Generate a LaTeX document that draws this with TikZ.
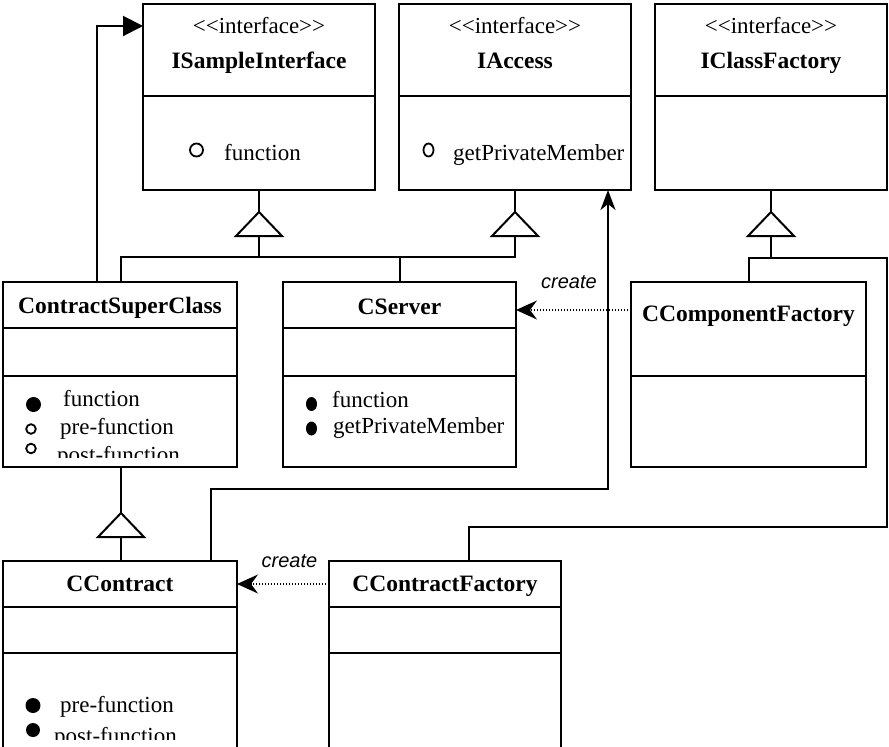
\documentclass[tikz,border=0pt]{standalone}
\usepackage{fontspec}
\setmainfont{Liberation Serif}
\setsansfont{Liberation Sans}
\usetikzlibrary{arrows.meta}
\tikzset{
  lw/.style={line width=2pt},
  umlbox/.style={draw, line width=2pt, inner sep=0pt, outer sep=0pt, anchor=north west},
  classtitle/.style={font=\fontsize{23.5}{28}\selectfont\bfseries, anchor=base, inner sep=0pt},
  stereo/.style={font=\fontsize{23}{28}\selectfont, anchor=base, inner sep=0pt},
  member/.style={font=\fontsize{23}{28}\selectfont, anchor=base west, inner sep=0pt},
  lbl/.style={font=\fontsize{20}{24}\selectfont\sffamily\itshape, anchor=base, inner sep=0pt},
  createline/.style={line width=1.2pt, dash pattern=on 1.2pt off 1.8pt, -{Stealth[length=21pt,width=19pt,inset=7pt]}},
  openbullet/.style={draw, line width=1.8pt},
  genarrow/.pic={\draw[line width=2pt, fill=white, line join=miter] (0,0) -- (-23,24) -- (23,24) -- cycle;}
}
\begin{document}
\begin{tikzpicture}[x=1pt,y=-1pt]
\useasboundingbox (0,0) rectangle (889,747);
\clip (0,0) rectangle (889,747);

% ---------- boxes ----------
\node[umlbox, minimum width=232pt, minimum height=186pt] (isi) at (143,4) {};
\node[umlbox, minimum width=232pt, minimum height=186pt] (iac) at (399,4) {};
\node[umlbox, minimum width=232pt, minimum height=186pt] (icf) at (655,4) {};
\node[umlbox, minimum width=234pt, minimum height=185pt] (csc) at (3,282) {};
\node[umlbox, minimum width=233pt, minimum height=185pt] (csv) at (283,282) {};
\node[umlbox, minimum width=235pt, minimum height=185pt] (ccf) at (631,282) {};
\node[umlbox, minimum width=234pt, minimum height=210pt] (cct) at (3,561) {};
\node[umlbox, minimum width=232pt, minimum height=210pt] (cfy) at (329,561) {};

% ---------- dividers ----------
\foreach \b in {isi,iac,icf}{
  \draw[lw] ([yshift=-92pt]\b.north west) -- ([yshift=-92pt]\b.north east);
}
\foreach \b in {csc,csv}{
  \draw[lw] ([yshift=-46pt]\b.north west) -- ([yshift=-46pt]\b.north east);
  \draw[lw] ([yshift=-94pt]\b.north west) -- ([yshift=-94pt]\b.north east);
}
\draw[lw] ([yshift=-94pt]ccf.north west) -- ([yshift=-94pt]ccf.north east);
\foreach \b in {cct,cfy}{
  \draw[lw] ([yshift=-46pt]\b.north west) -- ([yshift=-46pt]\b.north east);
  \draw[lw] ([yshift=-92pt]\b.north west) -- ([yshift=-92pt]\b.north east);
}

% ---------- titles ----------
\node[stereo] (isis) at (259,33) {<\kern0pt<interface>\kern0pt>};
\node[classtitle] (isit) at (259,68) {ISampleInterface};
\node[stereo] (iacs) at (515,33) {<\kern0pt<interface>\kern0pt>};
\node[classtitle] (iact) at (515,68) {IAccess};
\node[stereo] (icfs) at (771,33) {<\kern0pt<interface>\kern0pt>};
\node[classtitle] (icft) at (771,68) {IClassFactory};
\node[classtitle] (csct) at (120,313) {ContractSuperClass};
\node[classtitle] (csvt) at (399.5,314) {CServer};
\node[classtitle] (ccft) at (748.5,321) {CComponentFactory};
\node[classtitle] (cctt) at (120,591) {CContract};
\node[classtitle] (cfyt) at (445,591) {CContractFactory};

% ---------- members ----------
\draw[openbullet] (196.5,150) circle (6.5);
\node[member] (isim) at (224,160) {function};
\draw[openbullet] (428.5,150) ellipse (5 and 6.5);
\node[member] (iacm) at (453,160) {getPrivateMember};

\fill (33.5,404.5) circle (7.5);
\node[member] (cscm1) at (63,406) {function};
\draw[openbullet] (31,429) circle (4.8);
\node[member] (cscm2) at (60,434) {pre-function};
\begin{scope}
  \clip (5,376) rectangle (235,457);
  \draw[openbullet] (31,448.5) circle (4.8);
  \node[member] (cscm3) at (57,462) {post-function};
\end{scope}

\fill (311.5,404) ellipse (5.5 and 7);
\node[member] (csvm1) at (332,407) {function};
\fill (311.5,428.5) ellipse (5.5 and 7);
\node[member] (csvm2) at (333,433) {getPrivateMember};

\fill (33,705.5) circle (7.5);
\node[member] (cctm1) at (60,712) {pre-function};
\begin{scope}
  \clip (5,653) rectangle (235,739);
  \fill (33,730) circle (7);
  \node[member] (cctm2) at (54,743) {post-function};
\end{scope}

% ---------- generalizations ----------
\draw[lw] (isi.south) -- ++(0,22);
\pic at ([yshift=-22pt]isi.south) {genarrow};
\draw[lw] ([yshift=-46pt]isi.south) -- ++(0,21);
\draw[lw] (iac.south) -- ++(0,22);
\pic at ([yshift=-22pt]iac.south) {genarrow};
\draw[lw] ([xshift=1pt]csc.north) -- ++(0,-25) -| ([yshift=-46pt]iac.south);
\draw[lw] (csv.north) -- ++(0,-25);

\draw[lw] (icf.south) -- ++(0,22);
\pic at ([yshift=-22pt]icf.south) {genarrow};
\draw[lw] ([yshift=-46pt]icf.south) -- ++(0,22);
\draw[lw] (ccf.north) -- ++(0,-24) -- ++(138.5,0) -- ++(0,269) -| ([xshift=24pt]cfy.north);

\draw[lw] ([xshift=1pt]csc.south) -- ++(0,46);
\pic at ([xshift=1pt,yshift=-46pt]csc.south) {genarrow};
\draw[lw] ([xshift=1pt]cct.north) -- ++(0,-23);

% ---------- associations ----------
\draw[lw, -{Triangle[length=20pt,width=20pt]}] ([xshift=-23pt]csc.north) |- ([yshift=-22pt]isi.north west);
\draw[lw, -{Stealth[length=20pt,width=15pt,inset=6pt]}] ([xshift=91pt]cct.north) -- ++(0,-72) -| ([xshift=93pt]iac.south);

% ---------- create ----------
\draw[createline] ([yshift=-28pt]ccf.north west) coordinate (cr1) -- (cr1 -| csv.east);
\node[lbl] (lab1) at (569,288) {create};
\draw[createline] ([yshift=-23pt]cfy.north west) coordinate (cr2) -- (cr2 -| cct.east);
\node[lbl] (lab2) at (289.5,567) {create};
\end{tikzpicture}
\end{document}
